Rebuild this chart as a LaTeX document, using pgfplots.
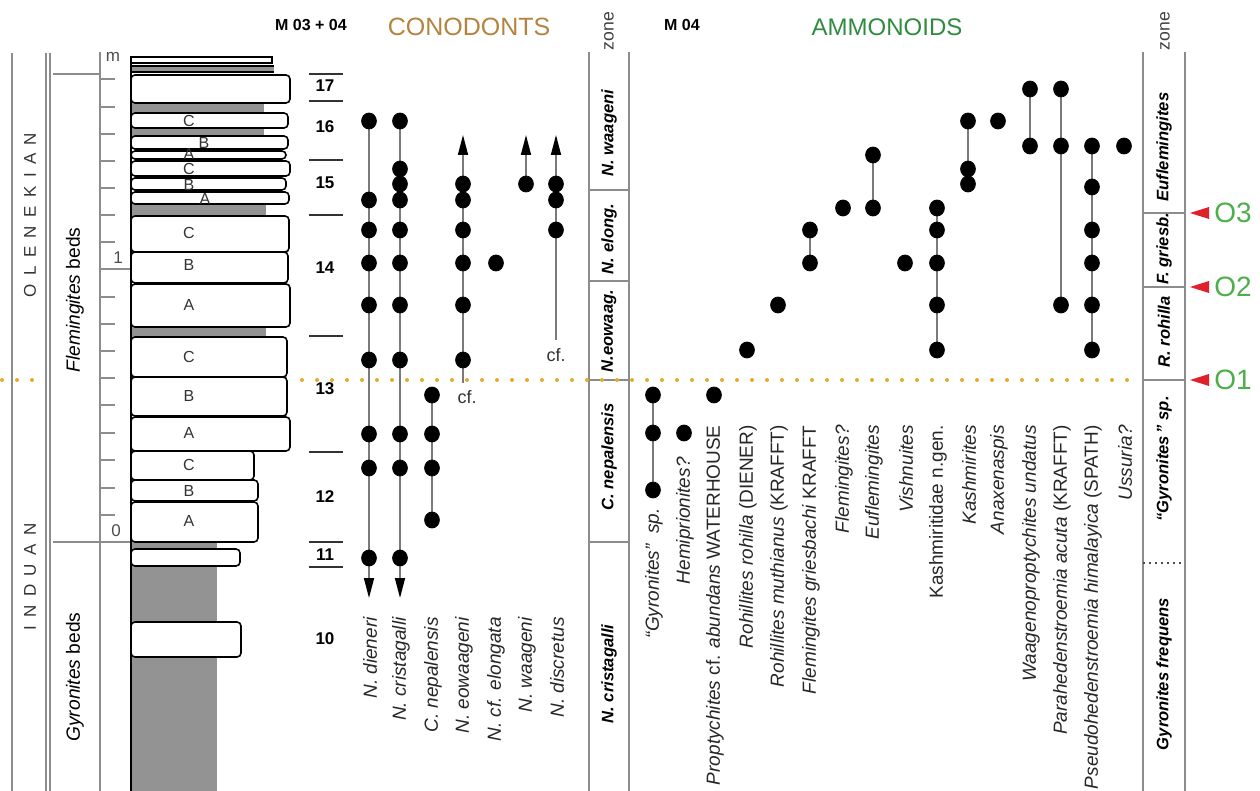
\documentclass[border=0pt]{standalone}
\usepackage{fontspec}
\setmainfont{Liberation Sans}
\usepackage{pgfplots}
\pgfplotsset{compat=1.18}
\usetikzlibrary{arrows.meta}
\definecolor{framec}{HTML}{8C8C8C}
\definecolor{rangec}{HTML}{7A7A7A}
\definecolor{shadec}{HTML}{939393}
\definecolor{orngc}{HTML}{E9A92C}
\definecolor{conoc}{HTML}{B4843E}
\definecolor{ammoc}{HTML}{2E8B40}
\definecolor{olabc}{HTML}{4DAF4A}
\definecolor{redc}{HTML}{E0202A}
\newcommand\fs[1]{\fontsize{#1}{#1}\selectfont}
\newcommand\bed[3]{\draw[line width=0.8pt,fill=white,rounded corners=2pt] (131,#1) rectangle (#3,#2);}
\newcommand\sh[3]{\fill[shadec] (131,#1) rectangle (#3,#2);}
\newcommand\tk[1]{\draw[framel] (100,#1) -- (115,#1);}
\newcommand\lett[3]{\node[font=\fs{8pt}, inner sep=0pt, text=black!80] at (#1,#2) {#3};}
\newcommand\sep[1]{\draw[black!80, line width=0.6pt] (309,#1) -- (343,#1);}
\newcommand\bnum[2]{\node[font=\fs{8.5pt}\bfseries, inner sep=0pt] at (325,#1) {#2};}
\newcommand\omark[3]{\fill[redc] (1190,#1) -- (1209,#2) -- (1209,#3) -- cycle;}
\tikzset{
  splab/.style={font=\fs{9.5pt}, rotate=90, anchor=east, inner sep=0pt, text=black!85},
  zonelab/.style={font=\fs{8.3pt}\bfseries\itshape, rotate=90, inner sep=0pt},
  framel/.style={framec, line width=0.7pt},
}
\begin{document}
\begin{tikzpicture}
\begin{axis}[
  x=0.5pt, y=0.5pt, xmin=0, xmax=1260, ymin=0, ymax=791, y dir=reverse,
  hide axis, clip=false,
  rangeline/.style={rangec, line width=0.8pt, no marks},
  dot/.style={only marks, mark=*, mark size=3.7pt, black, mark options={fill=black,draw=black,yscale=1.08}},
]
\coordinate (BL) at (0,791);
\coordinate (TR) at (1260,0);
% ---------- left frame ----------
\draw[framel] (12,53) -- (12,791);
\draw[framel] (46,53) -- (46,791);
\draw[framel] (50,53) -- (50,791);
\draw[framel] (100,52) -- (100,791);
\draw[framel] (53,74) -- (100,74);
\draw[framel] (53,542) -- (131,542);
\draw[framel] (100,269) -- (131,269);
\tk{79}\tk{107}\tk{134}\tk{161}\tk{188}\tk{215}\tk{242}\tk{297}\tk{324}\tk{351}\tk{378}\tk{405}\tk{433}\tk{460}\tk{488}\tk{515}
\node[font=\fs{8.5pt}, text=black!70] at (113,57) {m};
\node[font=\fs{8.5pt}, text=black!70] at (118,258) {1};
\node[font=\fs{8.5pt}, text=black!70] at (116,531) {0};
\node[rotate=90, font=\fs{8.5pt}, text=black!80] at (30,215) {O\kern4.2pt L\kern4.2pt E\kern4.2pt N\kern4.2pt E\kern4.2pt K\kern4.2pt I\kern4.2pt A\kern4.2pt N};
\node[rotate=90, font=\fs{8.5pt}, text=black!80] at (30,577) {I\kern4.2pt N\kern4.2pt D\kern4.2pt U\kern4.2pt A\kern4.2pt N};
\node[rotate=90, font=\fs{9.6pt}] at (75,300) {\textit{Flemingites} beds};
\node[rotate=90, font=\fs{9.6pt}] at (75,677) {\textit{Gyronites} beds};
% ---------- lithology ----------
\sh{542}{791}{217}
\draw[line width=0.6pt, fill=white] (131,57) rectangle (272,63);
\fill[shadec] (131,66) rectangle (274,72);
\draw[line width=0.6pt] (131,66) -- (274,66);
\draw[line width=0.6pt] (131,72) -- (274,72);
\sh{103}{113}{264}
\sh{128}{136}{264}
\sh{204}{216}{266}
\sh{327}{337}{266}
\bed{75}{103}{290}
\bed{113}{128}{288}
\bed{136}{149}{288}
\bed{151}{159}{286}
\bed{161}{176}{290}
\bed{178}{190}{286}
\bed{192}{204}{289}
\bed{216}{252}{289}
\bed{252}{283}{288}
\bed{284}{327}{290}
\bed{337}{377}{287}
\bed{377}{416}{287}
\bed{417}{451}{290}
\bed{451}{480}{254}
\bed{480}{501}{258}
\bed{502}{542}{258}
\bed{549}{566}{240}
\bed{622}{657}{241}
\draw[line width=0.8pt] (131,57) -- (131,791);
\lett{189}{121}{C}\lett{204}{143}{B}\lett{189}{154}{A}\lett{189}{169}{C}\lett{189}{185}{B}\lett{205}{199}{A}
\lett{189}{233}{C}\lett{189}{265}{B}\lett{189}{305}{A}\lett{189}{357}{C}\lett{189}{396}{B}\lett{189}{433}{A}
\lett{189}{465}{C}\lett{189}{491}{B}\lett{189}{521}{A}
% ---------- bed numbers ----------
\sep{74}\sep{101}\sep{160}\sep{215}\sep{336}\sep{452}\sep{542}\sep{567}
\bnum{86}{17}\bnum{127}{16}\bnum{183}{15}\bnum{268}{14}\bnum{389}{13}\bnum{497}{12}\bnum{555}{11}\bnum{639}{10}
% ---------- headers ----------
\node[font=\fs{8pt}\bfseries] at (311,25) {M 03 + 04};
\node[font=\fs{12.5pt}, text=conoc] at (469,27) {CONODONTS};
\node[font=\fs{8pt}\bfseries] at (682,25) {M 04};
\node[font=\fs{12pt}, text=ammoc] at (887,27) {AMMONOIDS};
\node[rotate=90, font=\fs{8.8pt}, text=black!75] at (609,31) {zone};
\node[rotate=90, font=\fs{8.8pt}, text=black!75] at (1165,31) {zone};
% ---------- zone columns ----------
\draw[framel, line width=0.9pt] (589,52) -- (589,791);
\draw[framel, line width=0.9pt] (629,52) -- (629,791);
\draw[framel, line width=0.9pt] (589,190) -- (629,190);
\draw[framel, line width=0.9pt] (589,281) -- (629,281);
\draw[framel, line width=0.9pt] (589,380) -- (629,380);
\draw[framel, line width=0.9pt] (589,542) -- (629,542);
\draw[framel, line width=0.9pt] (1143,52) -- (1143,791);
\draw[framel, line width=0.9pt] (1185,52) -- (1185,791);
\draw[framel, line width=0.9pt] (1143,213) -- (1185,213);
\draw[framel, line width=0.9pt] (1143,287) -- (1185,287);
\draw[framel, line width=0.9pt] (1143,380) -- (1185,380);
\draw[black!70, line width=0.8pt, dash pattern=on 1pt off 2pt] (1143,563) -- (1185,563);
\node[zonelab] at (609,133) {N. waageni};
\node[zonelab] at (609,239) {N. elong.};
\node[zonelab] at (609,331) {N.eowaag.};
\node[zonelab] at (609,457) {C. nepalensis};
\node[zonelab] at (609,674) {N. cristagalli};
\node[zonelab] at (1164,147) {Euflemingites};
\node[zonelab] at (1164,249) {F. griesb.};
\node[zonelab] at (1164,332) {R. rohilla};
\node[zonelab] at (1164,459) {“Gyronites\,” sp.};
\node[zonelab] at (1164,674) {Gyronites frequens};
% ---------- orange boundary ----------
\draw[orngc, line width=2pt, line cap=round, dash pattern=on 0pt off 7.5pt] (2,380) -- (45,380);
\draw[orngc, line width=2pt, line cap=round, dash pattern=on 0pt off 7.5pt] (302,380) -- (1138,380);
% ---------- O markers ----------
\omark{213}{207}{219}\omark{287}{281}{293}\omark{380}{374}{386}
\node[font=\fs{14pt}, text=olabc, anchor=west, inner sep=0pt] at (1214,213) {O3};
\node[font=\fs{14pt}, text=olabc, anchor=west, inner sep=0pt] at (1214,287) {O2};
\node[font=\fs{14pt}, text=olabc, anchor=west, inner sep=0pt] at (1214,380) {O1};
% ---------- conodont ranges ----------
\addplot[rangeline, -{Triangle[width=5pt,length=10pt,color=black]}] coordinates {(369,121) (369,598)};
\addplot[rangeline, -{Triangle[width=5pt,length=10pt,color=black]}] coordinates {(400,121) (400,598)};
\addplot[rangeline] coordinates {(432,395) (432,520)};
\addplot[rangeline, -{Triangle[width=5pt,length=10pt,color=black]}] coordinates {(463,383) (463,135)};
\addplot[rangeline, -{Triangle[width=5pt,length=10pt,color=black]}] coordinates {(526,184) (526,135)};
\addplot[rangeline, -{Triangle[width=5pt,length=10pt,color=black]}] coordinates {(556,340) (556,135)};
\addplot[dot] coordinates {(369,121) (369,200) (369,230) (369,263) (369,305) (369,360) (369,434) (369,468) (369,558)};
\addplot[dot] coordinates {(400,121) (400,169) (400,184) (400,200) (400,230) (400,263) (400,305) (400,360) (400,434) (400,468) (400,558)};
\addplot[dot] coordinates {(432,395) (432,434) (432,468) (432,520)};
\addplot[dot] coordinates {(463,184) (463,200) (463,230) (463,263) (463,305) (463,360)};
\addplot[dot] coordinates {(496,263)};
\addplot[dot] coordinates {(526,184)};
\addplot[dot] coordinates {(556,184) (556,200) (556,230)};
\node[font=\fs{9pt}, text=black!80] at (467,397) {cf.};
\node[font=\fs{9pt}, text=black!80] at (556,355) {cf.};
\node[splab] at (370,617) {\itshape N. dieneri};
\node[splab] at (401,617) {\itshape N. cristagalli};
\node[splab] at (433,617) {\itshape C. nepalensis};
\node[splab] at (464,617) {\itshape N. eowaageni};
\node[splab] at (496,617) {\itshape N. cf. elongata};
\node[splab] at (527,617) {\itshape N. waageni};
\node[splab] at (557,617) {\itshape N. discretus};
% ---------- ammonoid ranges ----------
\addplot[rangeline] coordinates {(653,395) (653,490)};
\addplot[rangeline] coordinates {(810,230) (810,263)};
\addplot[rangeline] coordinates {(873,155) (873,208)};
\addplot[rangeline] coordinates {(937,208) (937,350)};
\addplot[rangeline] coordinates {(968,121) (968,184)};
\addplot[rangeline] coordinates {(1030,89) (1030,146)};
\addplot[rangeline] coordinates {(1061,89) (1061,305)};
\addplot[rangeline] coordinates {(1092,146) (1092,350)};
\addplot[dot] coordinates {(653,395) (653,433) (653,490)};
\addplot[dot] coordinates {(684,433)};
\addplot[dot] coordinates {(714,395)};
\addplot[dot] coordinates {(747,350)};
\addplot[dot] coordinates {(778,305)};
\addplot[dot] coordinates {(810,230) (810,263)};
\addplot[dot] coordinates {(843,208)};
\addplot[dot] coordinates {(873,155) (873,208)};
\addplot[dot] coordinates {(905,263)};
\addplot[dot] coordinates {(937,208) (937,230) (937,263) (937,305) (937,350)};
\addplot[dot] coordinates {(968,121) (968,169) (968,184)};
\addplot[dot] coordinates {(998,121)};
\addplot[dot] coordinates {(1030,89) (1030,146)};
\addplot[dot] coordinates {(1061,89) (1061,146) (1061,305)};
\addplot[dot] coordinates {(1092,146) (1092,187) (1092,230) (1092,263) (1092,305) (1092,350)};
\addplot[dot] coordinates {(1124,146)};
\node[splab] at (654,508) {\textit{“Gyronites”\ \ sp.}};
\node[splab] at (685,457) {\textit{Hemiprionites?}};
\node[splab] at (715,425) {\textit{Proptychites} cf. \textit{abundans} WATERHOUSE};
\node[splab] at (748,425) {\textit{Rohillites rohilla} (DIENER)};
\node[splab] at (779,425) {\textit{Rohillites muthianus} (KRAFFT)};
\node[splab] at (811,425) {\textit{Flemingites griesbachi} KRAFFT};
\node[splab] at (844,425) {\textit{Flemingites?}};
\node[splab] at (874,425) {\textit{Euflemingites}};
\node[splab] at (906,425) {\textit{Vishnuites}};
\node[splab] at (938,425) {Kashmiritidae n.gen.};
\node[splab] at (969,425) {\textit{Kashmirites}};
\node[splab] at (999,425) {\textit{Anaxenaspis}};
\node[splab] at (1031,425) {\textit{Waagenoproptychites undatus}};
\node[splab] at (1062,425) {\textit{Parahedenstroemia acuta} (KRAFFT)};
\node[splab] at (1093,425) {\textit{Pseudohedenstroemia himalayica} (SPATH)};
\node[splab] at (1125,425) {\textit{Ussuria?}};
\end{axis}
\pgfresetboundingbox
\path[use as bounding box] (BL) rectangle (TR);
\end{tikzpicture}
\end{document}
